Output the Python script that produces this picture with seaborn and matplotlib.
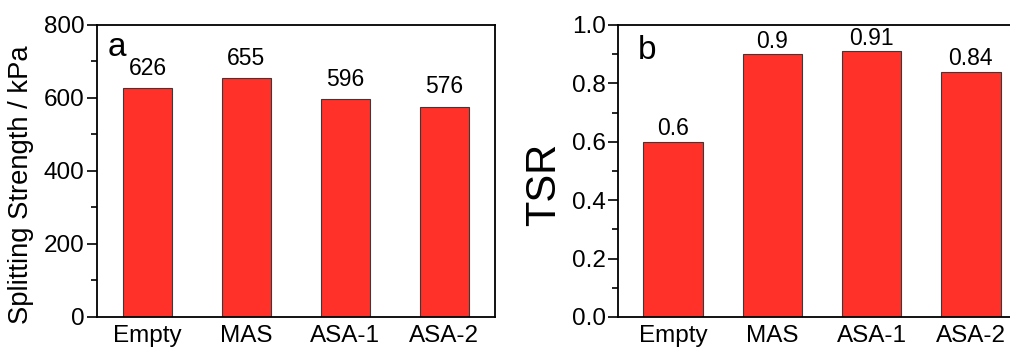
import numpy as np
import pandas as pd
import matplotlib
matplotlib.use('Agg')
import matplotlib.pyplot as plt
import seaborn as sns
from matplotlib.ticker import MultipleLocator

samples = ['Empty', 'MAS', 'ASA-1', 'ASA-2']
splitting = [626, 655, 596, 576]
tsr = [0.6, 0.9, 0.91, 0.84]
tsr_text = ['0.6', '0.9', '0.91', '0.84']

sns.set_style('ticks')
plt.rcParams['font.family'] = ['Liberation Sans', 'DejaVu Sans']
plt.rcParams['text.color'] = 'black'
plt.rcParams['axes.labelcolor'] = 'black'
plt.rcParams['xtick.color'] = 'black'
plt.rcParams['ytick.color'] = 'black'

bar_red = '#ff3128'
edge = '#3a3a3a'

fig = plt.figure(figsize=(10.1, 3.47), dpi=100)
ax1 = fig.add_axes([0.096, 0.0865, 0.394, 0.8415])
ax2 = fig.add_axes([0.612, 0.0865, 0.388, 0.8415])

#panel a - splitting strength
sns.barplot(x=samples, y=splitting, color=bar_red, width=0.5, saturation=1,
            edgecolor=edge, linewidth=0.8, ax=ax1)
ax1.set_xlim(-0.51, 3.51)
ax1.set_ylim(0, 800)
ax1.yaxis.set_major_locator(MultipleLocator(200))
ax1.yaxis.set_minor_locator(MultipleLocator(100))
ax1.set_ylabel('Splitting Strength / kPa', fontsize=19.7)
ax1.yaxis.set_label_coords(-0.158, 0.452)
for i, v in enumerate(splitting):
    ax1.annotate(str(v), (i, v), xytext=(0, 6), textcoords='offset points',
                 ha='center', va='bottom', fontsize=16.5)
ax1.text(0.028, 0.895, 'a', transform=ax1.transAxes, fontsize=24)

#panel b - TSR
sns.barplot(x=samples, y=tsr, color=bar_red, width=0.6, saturation=1,
            edgecolor=edge, linewidth=0.8, ax=ax2)
ax2.set_xlim(-0.555, 3.395)
ax2.set_ylim(0, 1.0)
ax2.yaxis.set_major_locator(MultipleLocator(0.2))
ax2.yaxis.set_minor_locator(MultipleLocator(0.1))
ax2.yaxis.set_major_formatter(matplotlib.ticker.FormatStrFormatter('%.1f'))
ax2.set_ylabel('TSR', fontsize=30)
ax2.yaxis.set_label_coords(-0.137, 0.455)
for i, v in enumerate(tsr):
    ax2.annotate(tsr_text[i], (i, v), xytext=(0, 1), textcoords='offset points',
                 ha='center', va='bottom', fontsize=16.5)
ax2.text(0.05, 0.885, 'b', transform=ax2.transAxes, fontsize=24)

for ax in (ax1, ax2):
    for s in ax.spines.values():
        s.set_linewidth(1.3)
        s.set_color('black')
    ax.tick_params(axis='y', which='major', direction='out', length=7, width=1.2,
                   labelsize=17.5, pad=2)
    ax.tick_params(axis='y', which='minor', direction='out', length=4, width=1.2)
    ax.tick_params(axis='x', length=0, labelsize=17.5, pad=6)
    ax.set_xlabel('')
ax2.spines['right'].set_visible(False)

fig.savefig('out.png', dpi=100, facecolor='white')
